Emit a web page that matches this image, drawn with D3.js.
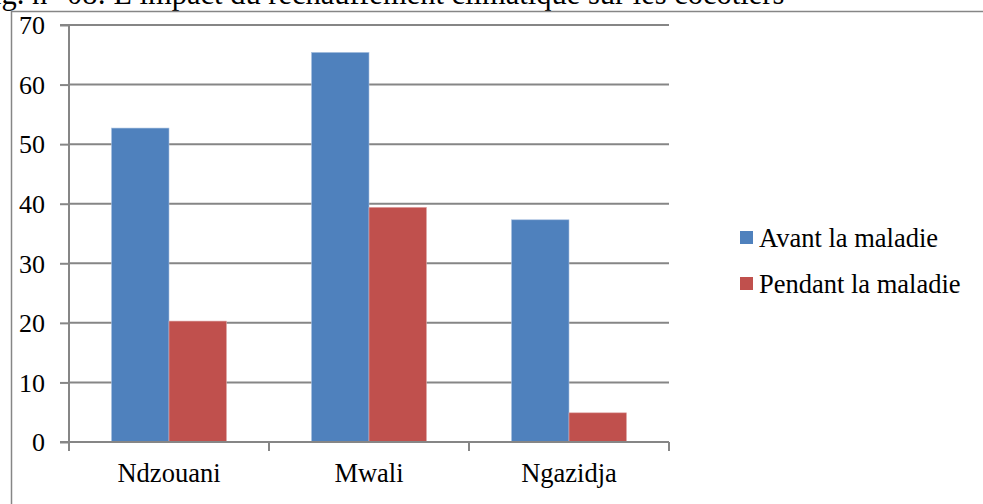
<!DOCTYPE html>
<html><head><meta charset="utf-8">
<script src="https://cdn.jsdelivr.net/npm/d3@7"></script>
<style>body{margin:0;background:#fff}svg{display:block}
svg text{font-family:"Liberation Serif","Times New Roman","DejaVu Serif",serif !important;}</style>
</head><body>
<script>
const categories = ["Ndzouani", "Mwali", "Ngazidja"];
const seriesNames = ["Avant la maladie", "Pendant la maladie"];
const avant = [52.7, 65.4, 37.3];
const pendant = [20.3, 39.4, 4.9];
const yTicks = [0, 10, 20, 30, 40, 50, 60, 70];
const colors = ["#4F81BD", "#C0504D"];
const titleText = "Fig. n° 08: L’impact du réchauffement climatique sur les cocotiers";

const W = 983, H = 504;
const svg = d3.select("body").append("svg").attr("width", W).attr("height", H);

// title (cropped at top, as in the reference)
svg.append("text").attr("x", -24).attr("y", 4)
  .attr("font-size", 30.5).attr("fill", "#000").text(titleText);

// outer frame
svg.append("rect").attr("x", 11.5).attr("y", 11.5).attr("width", 980).attr("height", 500)
  .attr("fill", "none").attr("stroke", "#868686").attr("stroke-width", 1.5);

const m = {left: 69, right: 669, top: 25, bottom: 442};
const x0 = d3.scaleBand().domain(categories).range([m.left, m.right]).paddingInner(0.425).paddingOuter(0.2125);
const x1 = d3.scaleBand().domain(seriesNames).range([0, x0.bandwidth()]);
const y = d3.scaleLinear().domain([0, 70]).range([m.bottom, m.top]);

// gridlines
svg.append("g").selectAll("line").data(yTicks.filter(d => d > 0)).join("line")
  .attr("x1", m.left).attr("x2", m.right).attr("y1", d => y(d)).attr("y2", d => y(d))
  .attr("stroke", "#868686").attr("stroke-width", 2);

// bars
const data = categories.map((c, i) => ({c, vals: [avant[i], pendant[i]]}));
const g = svg.append("g");
data.forEach(d => {
  d.vals.forEach((v, j) => {
    g.append("rect")
      .attr("x", x0(d.c) + x1(seriesNames[j]))
      .attr("y", y(v))
      .attr("width", x1.bandwidth())
      .attr("height", y(0) - y(v))
      .attr("fill", colors[j])
      .attr("stroke", j === 0 ? "#a9c0e0" : "#e0a9a8").attr("stroke-width", 0.6);
  });
});

// y axis
const yAxis = d3.axisLeft(y).tickValues(yTicks).tickSize(9).tickPadding(15);
const ya = svg.append("g").attr("transform", `translate(${m.left},0)`).call(yAxis);
ya.select(".domain").attr("stroke", "#868686").attr("stroke-width", 2).attr("d", `M-9,${m.top}H0V${m.bottom}H-9`);
ya.selectAll(".tick line").attr("stroke", "#868686").attr("stroke-width", 2);
ya.selectAll(".tick text").attr("font-size", 26).attr("fill", "#000").attr("dy", "0.34em");

// x axis
const xPos = d3.scaleLinear().domain([0, 3]).range([m.left, m.right]);
const xa = svg.append("g");
xa.append("line").attr("x1", m.left).attr("x2", m.right).attr("y1", m.bottom).attr("y2", m.bottom)
  .attr("stroke", "#868686").attr("stroke-width", 2);
xa.selectAll("line.tk").data([0, 1, 2, 3]).join("line").attr("class", "tk")
  .attr("x1", d => xPos(d)).attr("x2", d => xPos(d)).attr("y1", m.bottom).attr("y2", m.bottom + 9)
  .attr("stroke", "#868686").attr("stroke-width", 2);
xa.selectAll("text").data(categories).join("text")
  .attr("x", d => x0(d) + x0.bandwidth() / 2).attr("y", 482)
  .attr("text-anchor", "middle").attr("font-size", 26.5).attr("fill", "#000")
  .text(d => d);

// legend
const lg = svg.append("g");
seriesNames.forEach((s, i) => {
  const yy = 231 + i * 46;
  lg.append("rect").attr("x", 740).attr("y", yy).attr("width", 13).attr("height", 13).attr("fill", colors[i]);
  lg.append("text").attr("x", 759).attr("y", yy + 16).attr("font-size", 26.5)
    .attr("fill", "#000").text(s);
});
</script>
</body></html>
